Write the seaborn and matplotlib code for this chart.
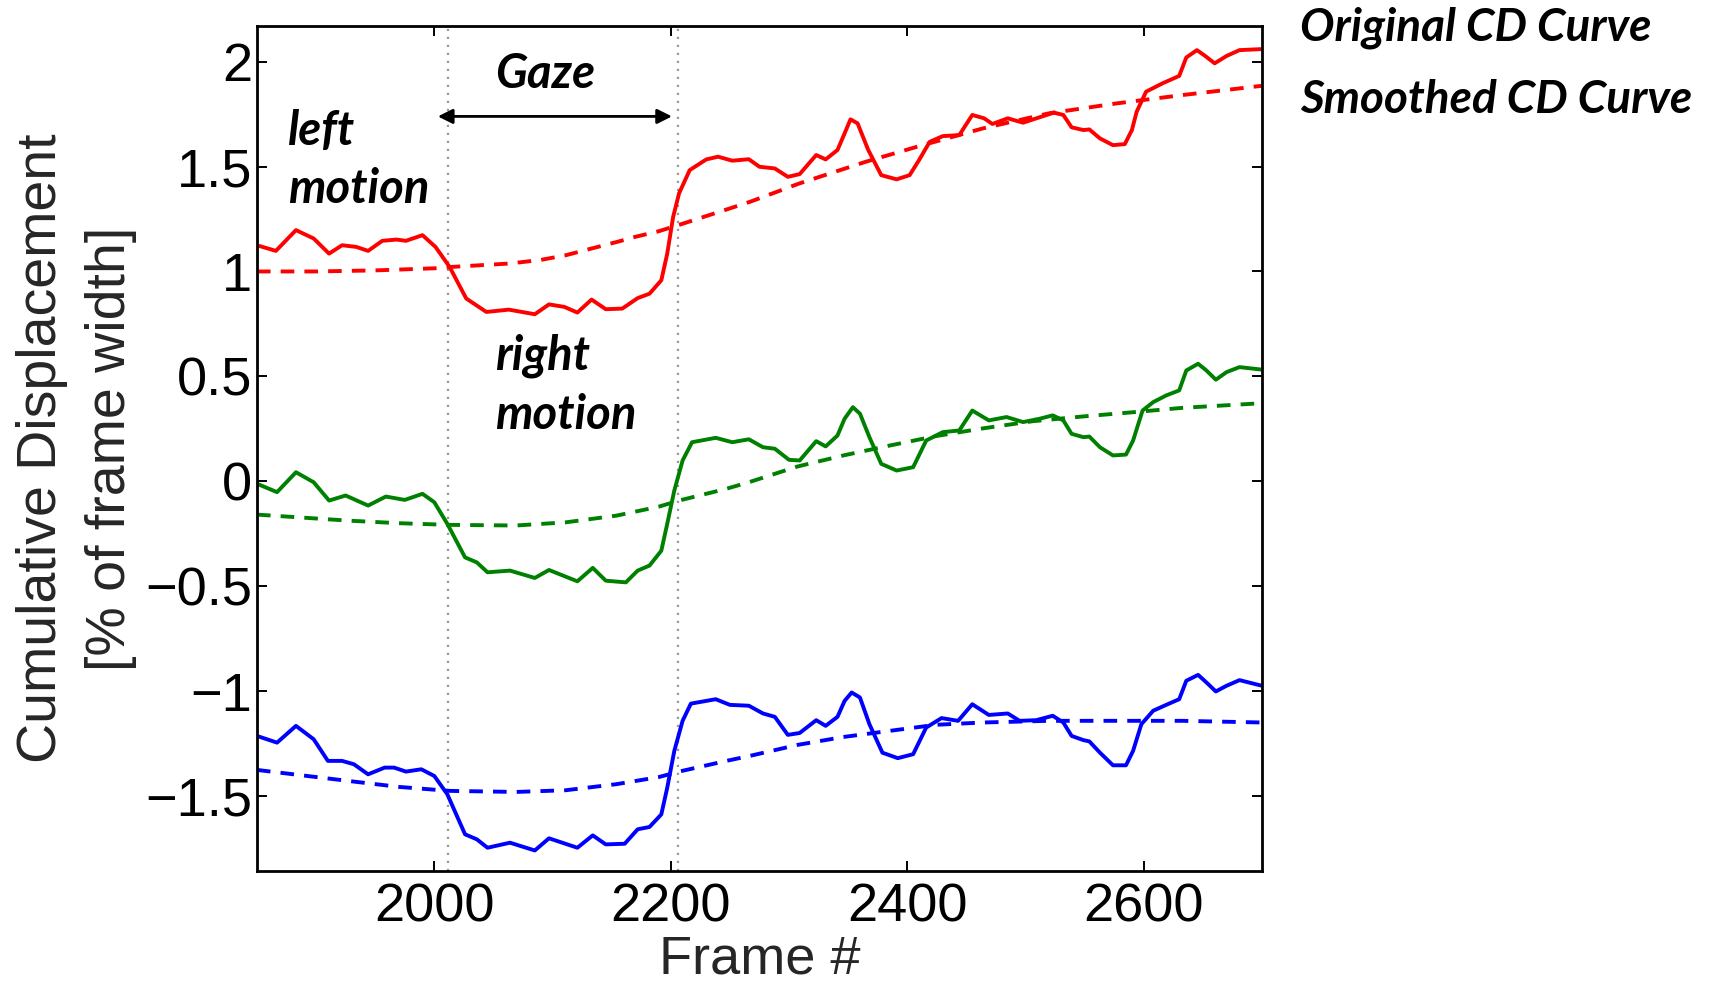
import matplotlib
matplotlib.use("Agg")
import matplotlib.pyplot as plt
import seaborn as sns

# --- original cumulative displacement curves ---
red_x = [1850, 1866, 1883, 1898, 1911, 1922, 1934, 1944, 1956, 1968,
         1976, 1990, 2001, 2013, 2027, 2044, 2063, 2085, 2097, 2110,
         2121, 2133, 2145, 2159, 2172, 2182, 2192, 2197, 2202, 2207,
         2216, 2230, 2240, 2252, 2266, 2275, 2288, 2299, 2309, 2323,
         2331, 2341, 2347, 2352, 2358, 2367, 2378, 2391, 2402, 2410,
         2419, 2430, 2444, 2455, 2465, 2472, 2485, 2498, 2512, 2524,
         2532, 2539, 2549, 2554, 2563, 2574, 2584, 2590, 2594, 2602,
         2616, 2630, 2636, 2645, 2652, 2660, 2670, 2681, 2700]
red_y = [1.125, 1.098, 1.197, 1.157, 1.085, 1.125, 1.117, 1.098, 1.146, 1.152,
         1.146, 1.173, 1.117, 1.021, 0.871, 0.807, 0.818, 0.796, 0.843, 0.831,
         0.804, 0.866, 0.820, 0.823, 0.873, 0.894, 0.958, 1.085, 1.260, 1.372,
         1.483, 1.534, 1.547, 1.528, 1.535, 1.499, 1.491, 1.451, 1.464, 1.555,
         1.534, 1.579, 1.658, 1.725, 1.706, 1.579, 1.459, 1.439, 1.459, 1.531,
         1.618, 1.645, 1.650, 1.746, 1.730, 1.703, 1.730, 1.709, 1.735, 1.757,
         1.746, 1.687, 1.674, 1.677, 1.634, 1.602, 1.607, 1.674, 1.761, 1.857,
         1.897, 1.932, 2.020, 2.055, 2.027, 1.992, 2.027, 2.055, 2.060]

green_x = [1850, 1867, 1883, 1898, 1911, 1925, 1944, 1959, 1975, 1990,
           2000, 2011, 2026, 2036, 2045, 2064, 2085, 2097, 2121, 2134,
           2145, 2162, 2172, 2182, 2192, 2197, 2203, 2210, 2218, 2238,
           2252, 2266, 2278, 2288, 2300, 2309, 2323, 2331, 2341, 2347,
           2354, 2360, 2368, 2378, 2391, 2405, 2416, 2430, 2444, 2455,
           2469, 2484, 2498, 2512, 2523, 2532, 2539, 2549, 2554, 2563,
           2574, 2585, 2591, 2599, 2608, 2619, 2630, 2636, 2646, 2653,
           2661, 2670, 2681, 2700]
green_y = [-0.012, -0.052, 0.043, -0.005, -0.092, -0.068, -0.116, -0.073, -0.089, -0.060,
           -0.100, -0.203, -0.363, -0.387, -0.434, -0.426, -0.461, -0.423, -0.477, -0.413,
           -0.474, -0.482, -0.426, -0.402, -0.331, -0.203, -0.044, 0.099, 0.186, 0.207,
           0.186, 0.200, 0.162, 0.155, 0.102, 0.099, 0.191, 0.166, 0.218, 0.298,
           0.353, 0.322, 0.210, 0.083, 0.051, 0.067, 0.194, 0.234, 0.242, 0.337,
           0.290, 0.306, 0.282, 0.298, 0.314, 0.290, 0.226, 0.210, 0.213, 0.162,
           0.123, 0.127, 0.194, 0.337, 0.377, 0.409, 0.433, 0.528, 0.560, 0.528,
           0.484, 0.520, 0.544, 0.532]

blue_x = [1850, 1867, 1883, 1898, 1910, 1922, 1932, 1944, 1958, 1966,
          1976, 1989, 2000, 2011, 2026, 2036, 2045, 2064, 2085, 2097,
          2121, 2134, 2145, 2161, 2172, 2182, 2192, 2197, 2203, 2210,
          2217, 2238, 2250, 2266, 2278, 2288, 2299, 2309, 2323, 2331,
          2341, 2347, 2353, 2360, 2368, 2379, 2392, 2405, 2416, 2429,
          2443, 2455, 2469, 2485, 2495, 2509, 2523, 2532, 2539, 2549,
          2554, 2563, 2574, 2585, 2591, 2598, 2608, 2619, 2630, 2636,
          2646, 2653, 2661, 2670, 2681, 2700]
blue_y = [-1.214, -1.246, -1.166, -1.230, -1.333, -1.333, -1.349, -1.397, -1.365, -1.365,
          -1.384, -1.373, -1.405, -1.492, -1.683, -1.707, -1.747, -1.723, -1.760, -1.702,
          -1.747, -1.688, -1.731, -1.728, -1.659, -1.648, -1.588, -1.461, -1.285, -1.142,
          -1.060, -1.039, -1.066, -1.070, -1.107, -1.123, -1.209, -1.200, -1.139, -1.166,
          -1.123, -1.047, -1.007, -1.031, -1.158, -1.294, -1.320, -1.301, -1.174, -1.129,
          -1.142, -1.063, -1.114, -1.107, -1.142, -1.139, -1.118, -1.150, -1.214, -1.234,
          -1.240, -1.294, -1.354, -1.354, -1.285, -1.158, -1.094, -1.066, -1.039, -0.951,
          -0.923, -0.959, -1.002, -0.975, -0.948, -0.975]

# --- smoothed curves ---
red_smooth_x = [1850, 1900, 1950, 2000, 2013, 2040, 2064, 2090, 2111, 2130,
                2154, 2170, 2190, 2207, 2247, 2267, 2309, 2365, 2408, 2464,
                2520, 2577, 2633, 2700]
red_smooth_y = [1.000, 1.000, 1.005, 1.015, 1.021, 1.030, 1.038, 1.055, 1.077, 1.105,
                1.140, 1.165, 1.192, 1.222, 1.295, 1.332, 1.420, 1.523, 1.594, 1.682,
                1.754, 1.801, 1.841, 1.885]

green_smooth_x = [1850, 1928, 1970, 2013, 2069, 2111, 2154, 2190, 2207, 2247,
                  2267, 2307, 2346, 2385, 2424, 2464, 2506, 2549, 2591, 2633, 2700]
green_smooth_y = [-0.159, -0.188, -0.200, -0.208, -0.211, -0.196, -0.164, -0.121, -0.092, -0.036,
                  -0.003, 0.070, 0.123, 0.170, 0.215, 0.252, 0.286, 0.309, 0.329, 0.350, 0.372]

blue_smooth_x = [1850, 1928, 1970, 2013, 2069, 2111, 2154, 2190, 2207, 2247,
                 2267, 2307, 2346, 2385, 2424, 2464, 2520, 2577, 2633, 2700]
blue_smooth_y = [-1.376, -1.429, -1.457, -1.476, -1.481, -1.473, -1.444, -1.410, -1.384, -1.333,
                 -1.309, -1.257, -1.219, -1.190, -1.161, -1.150, -1.142, -1.142, -1.142, -1.150]

gaze_bounds = [2012, 2206]
x_ticks = [2000, 2200, 2400, 2600]
y_ticks = [-1.5, -1, -0.5, 0, 0.5, 1, 1.5, 2]

sns.set_style("ticks")
plt.rcParams['font.family'] = ['Liberation Sans', 'DejaVu Sans']
plt.rcParams['axes.unicode_minus'] = True

fig = plt.figure(figsize=(17.13, 9.81), dpi=100)
ax = fig.add_axes([0.150, 0.1121, 0.5867, 0.8614])

curves = [
    (red_x, red_y, red_smooth_x, red_smooth_y, '#ff0000'),
    (green_x, green_y, green_smooth_x, green_smooth_y, '#008000'),
    (blue_x, blue_y, blue_smooth_x, blue_smooth_y, '#0000ff'),
]
for ox, oy, sx, sy, col in curves:
    sns.lineplot(x=ox, y=oy, color=col, lw=2.8, ax=ax, estimator=None, sort=False)
    sns.lineplot(x=sx, y=sy, color=col, lw=2.8, ax=ax, estimator=None, sort=False,
                 linestyle=(0, (3.5, 2.6)))

# gaze interval markers
for gx in gaze_bounds:
    ax.axvline(gx, color='#999999', lw=1.6, ls=(0, (1.0, 2.6)), zorder=0)

ax.annotate('', xy=(2003, 1.739), xytext=(2201, 1.739),
            arrowprops=dict(arrowstyle='<|-|>', color='black', lw=2,
                            mutation_scale=22, shrinkA=0, shrinkB=0))

ax.set_xlim(1850, 2700)
ax.set_ylim(-1.858, 2.17)
ax.set_xticks(x_ticks)
ax.set_yticks(y_ticks)
ax.set_yticklabels([f"{v:g}".replace('-', '\u2212') for v in y_ticks])
ax.tick_params(direction='in', length=7, width=1.4, top=True, right=True,
               labelsize=39, colors='black', pad=8)
ax.tick_params(axis='y', pad=3.6)
for s in ax.spines.values():
    s.set_linewidth(2)
    s.set_color('black')

ax.set_xlabel('Frame #', fontsize=39, labelpad=1.5)
ax.set_ylabel('Cumulative Displacement\n[% of frame width]', fontsize=40,
              labelpad=6, linespacing=1.42)

anno = dict(family=['Lato', 'DejaVu Sans'], weight='bold', style='italic',
            color='black')
# multi-line text: 'baseline' anchors the last line
ax.text(1876, 1.324, 'left\nmotion', ha='left', va='baseline', fontsize=34,
        linespacing=1.41, **anno)
ax.text(2051, 1.873, 'Gaze', ha='left', va='baseline', fontsize=34, **anno)
ax.text(2051, 0.250, 'right\nmotion', ha='left', va='baseline', fontsize=34,
        linespacing=1.41, **anno)

fig.text(0.759, 0.959, 'Original CD Curve', ha='left', va='baseline', fontsize=33, **anno)
fig.text(0.759, 0.885, 'Smoothed CD Curve', ha='left', va='baseline', fontsize=33, **anno)

fig.savefig('out.png', dpi=100)
